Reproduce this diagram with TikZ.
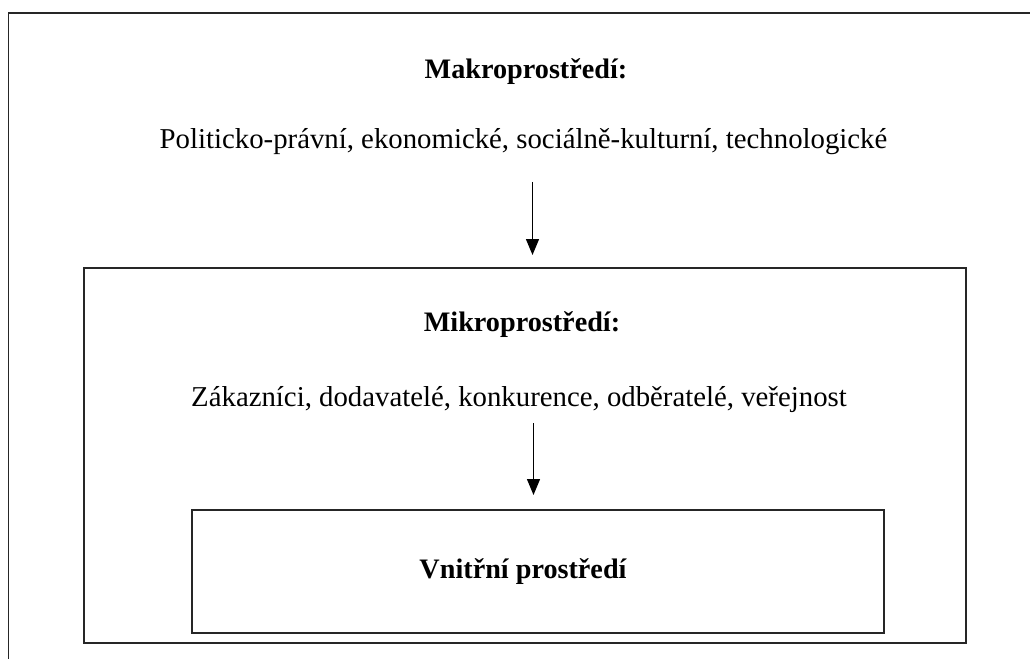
\documentclass[tikz,border=0pt]{standalone}
\usepackage{fontspec}
\setmainfont{Liberation Serif}
\usetikzlibrary{arrows.meta}
\tikzset{
  frame/.style={draw=black!85, line width=1.8pt},
  lbl/.style={inner sep=0pt, font=\fontsize{28.9}{32}\selectfont},
  ttl/.style={inner sep=0pt, font=\fontsize{28.3}{32}\selectfont\bfseries},
  arr/.style={draw=black, line width=1.3pt, -{Triangle[length=16bp,width=13bp]}}
}
\begin{document}
\begin{tikzpicture}[x=1bp,y=-1bp]
\useasboundingbox (0,0) rectangle (1030,659);
\clip (0,0) rectangle (1030,659);
\fill[white] (0,0) rectangle (1030,659);
\draw[frame] (8.5,13) rectangle (1040,670);
\draw[frame] (84,268) rectangle (966,643);
\draw[frame] (192,510) rectangle (884,633);
\node[ttl] (makro) at (526,72) {Makroprostředí:};
\node[lbl] (makrolist) at (523.5,142) {Politicko-právní, ekonomické, sociálně-kulturní, technologické};
\node[ttl] (mikro) at (522,325) {Mikroprostředí:};
\node[lbl] (mikrolist) at (519,400) {Zákazníci, dodavatelé, konkurence, odběratelé, veřejnost};
\node[ttl] (vnitrni) at (523,572) {Vnitřní prostředí};
\coordinate (a1s) at (532.5,182);
\coordinate (a1e) at (532.5,255);
\coordinate (a2s) at (533.5,423);
\coordinate (a2e) at (533.5,495);
\draw[arr] (a1s) -- (a1e);
\draw[arr] (a2s) -- (a2e);
\end{tikzpicture}
\end{document}
